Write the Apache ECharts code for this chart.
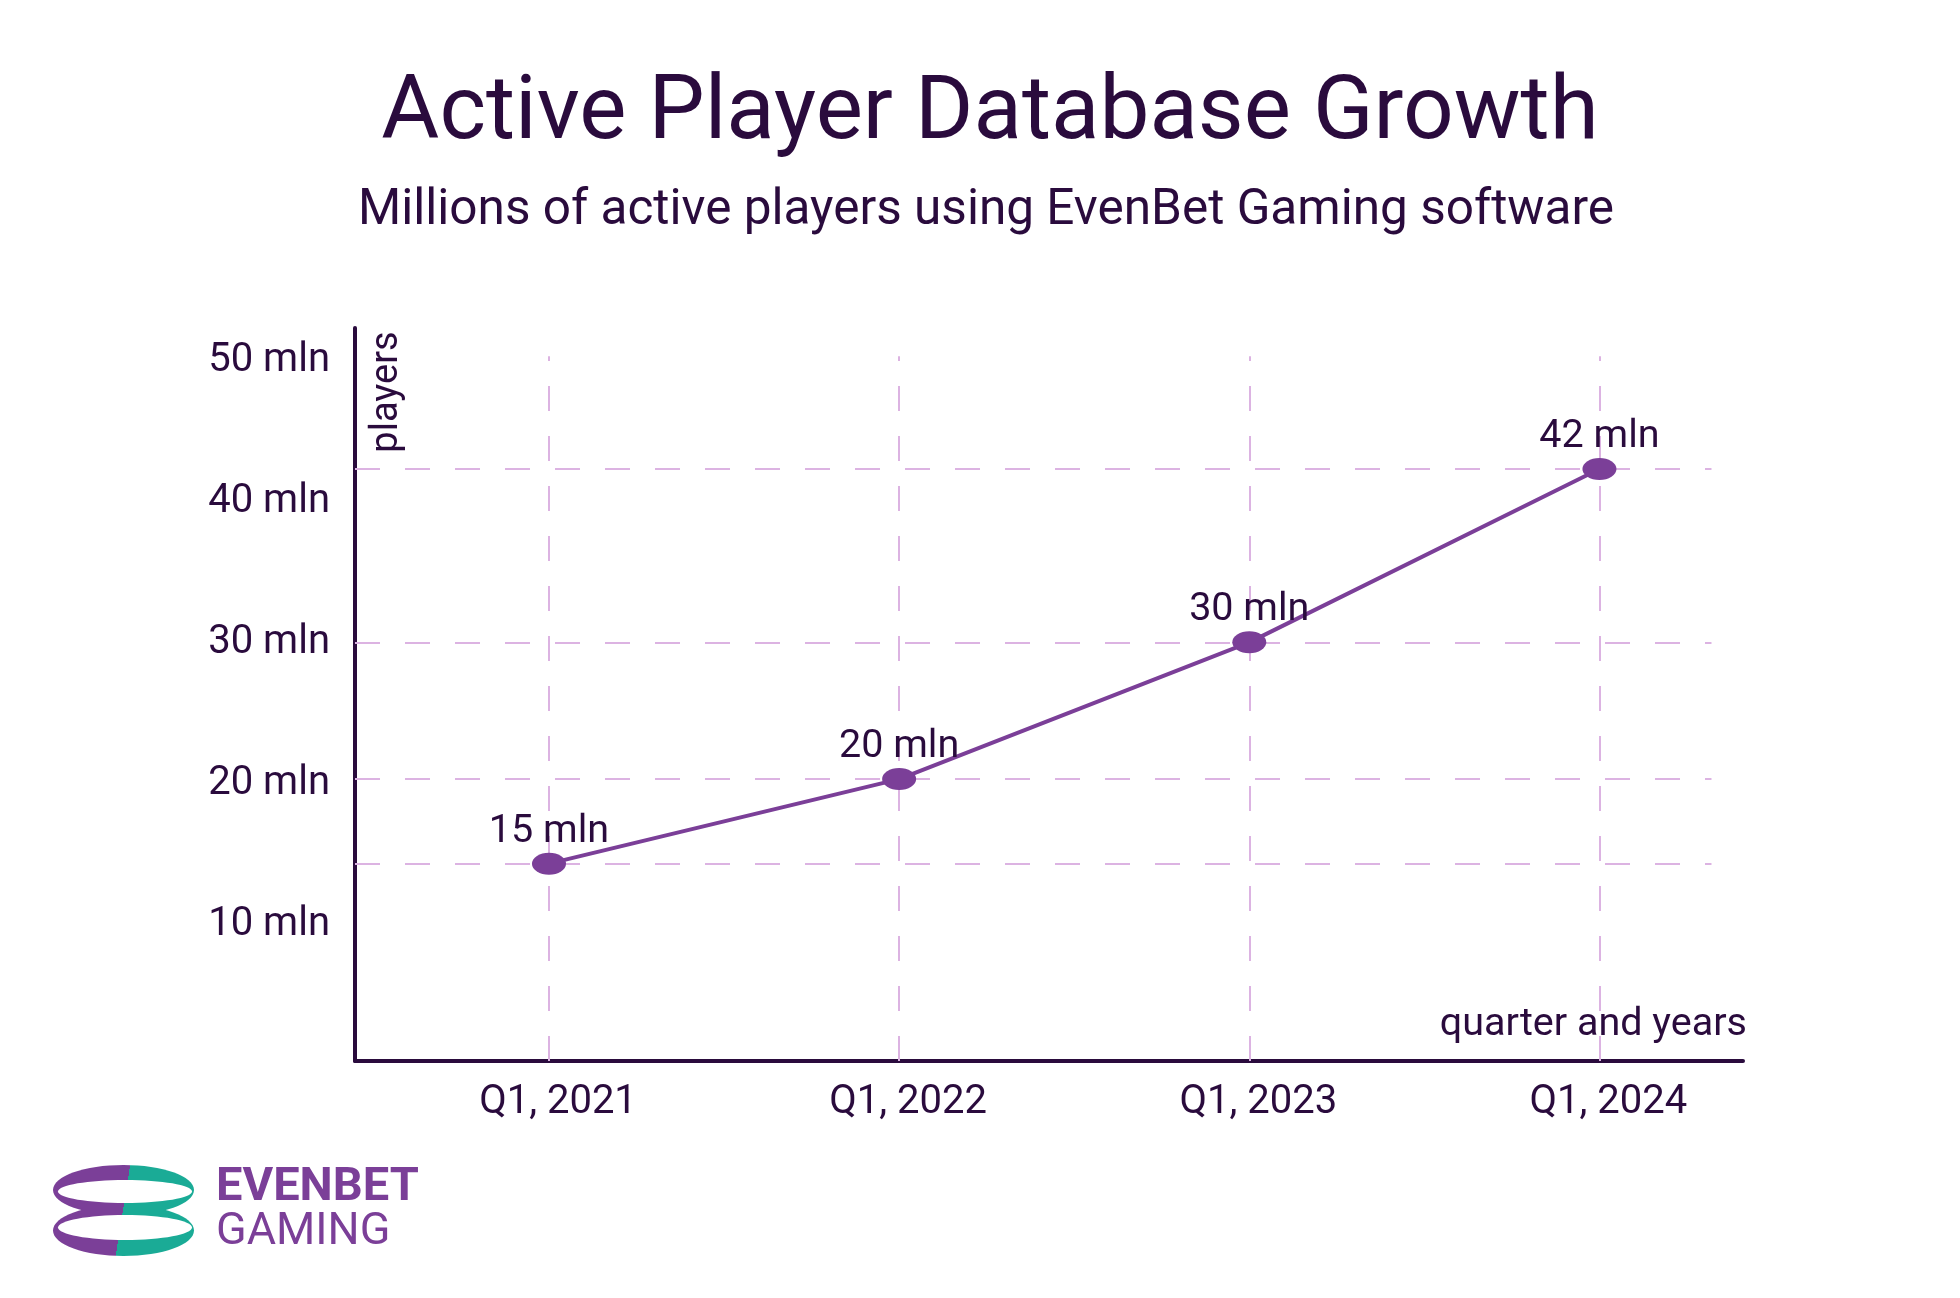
<!DOCTYPE html>
<html>
<head>
<meta charset="utf-8">
<title>Active Player Database Growth</title>
<script src="https://cdn.jsdelivr.net/npm/echarts@6/dist/echarts.min.js"></script>
<style>
  html, body { margin: 0; padding: 0; background: #ffffff; }
  #chart { width: 1960px; height: 1298px; }
</style>
</head>
<body>
<div id="chart"></div>
<script>
// data
const quarters = ['Q1, 2021', 'Q1, 2022', 'Q1, 2023', 'Q1, 2024'];
const players = [14, 20, 29.7, 42];
const pointLabels = ['15 mln', '20 mln', '30 mln', '42 mln'];
const yTicks = [10, 20, 30, 40, 50];

const dark = '#2a0b3d';
const purple = '#7b3f98';
const teal = '#1aab96';
const gridColor = '#dcb3e2';

const xMin = -0.554;
const xMax = 3.41;
const hLineEnd = 3.32;

const chart = echarts.init(document.getElementById('chart'));

const xIdx = quarters.map((q, i) => i);
const seriesData = players.map((v, i) => [i, v]);

// dashed guides: vertical at each quarter, horizontal at each value
const guideLines = []
	.concat(xIdx.map(i => [{ coord: [i, 0] }, { coord: [i, 50] }]))
	.concat(players.map(v => [{ coord: [xMin, v] }, { coord: [hLineEnd, v] }]));

// logo split gradient (hard stop, slightly tilted)
const splitFill = new echarts.graphic.LinearGradient(113, 1208.4, 133, 1211.6, [
	{ offset: 0, color: purple },
	{ offset: 0.5, color: purple },
	{ offset: 0.5, color: teal },
	{ offset: 1, color: teal }
], true);

const option = {
	backgroundColor: '#ffffff',
	animation: false,
	textStyle: { fontFamily: 'Roboto' },
	title: [
		{
			text: 'Active Player Database Growth',
			left: 990,
			top: 71,
			textAlign: 'center',
			padding: 0,
			textStyle: { fontSize: 89, fontWeight: 'normal', color: dark, fontFamily: 'Roboto' }
		},
		{
			text: 'Millions of active players using EvenBet Gaming software',
			left: 986,
			top: 187,
			textAlign: 'center',
			padding: 0,
			textStyle: { fontSize: 49.5, fontWeight: 'normal', color: dark, fontFamily: 'Roboto' }
		}
	],
	grid: { left: 355, right: 217, top: 328, bottom: 237 },
	xAxis: {
		type: 'value',
		min: xMin,
		max: xMax,
		splitLine: { show: false },
		axisTick: { show: false },
		axisLine: { show: true, onZero: false, lineStyle: { color: dark, width: 4 } },
		axisLabel: {
			customValues: xIdx,
			margin: 22,
			fontSize: 40,
			color: dark,
			padding: [0, 0, 0, 18],
			formatter: v => quarters[Math.round(v)]
		}
	},
	yAxis: {
		type: 'value',
		min: 0,
		max: 52,
		interval: 10,
		splitLine: { show: false },
		axisTick: { show: false },
		axisLine: { show: true, onZero: false, lineStyle: { color: dark, width: 4 } },
		axisLabel: {
			customValues: yTicks,
			margin: 25,
			formatter: v => '{t|' + v + ' mln}',
			rich: {
				t: { fontSize: 40, color: dark, fontFamily: 'Roboto', padding: [9, 0, 0, 0] }
			}
		}
	},
	series: [
		{
			type: 'line',
			data: seriesData,
			symbol: 'circle',
			symbolSize: [34, 22],
			lineStyle: { color: purple, width: 4 },
			itemStyle: { color: purple },
			z: 5,
			label: {
				show: true,
				position: 'top',
				distance: 1,
				fontSize: 39.5,
				color: dark,
				formatter: p => pointLabels[p.dataIndex]
			},
			markLine: {
				silent: true,
				symbol: ['none', 'none'],
				label: { show: false },
				lineStyle: { color: gridColor, width: 2, type: [25, 25] },
				z: 1,
				data: guideLines
			}
		}
	],
	graphic: [
		{
			type: 'text',
			x: 387,
			y: 392,
			rotation: Math.PI / 2,
			style: { text: 'players', font: '38px Roboto', fill: dark, align: 'center', verticalAlign: 'middle' }
		},
		{
			type: 'text',
			x: 1747,
			y: 1025,
			style: { text: 'quarter and years', font: '39.5px Roboto', fill: dark, align: 'right', verticalAlign: 'middle' }
		},
		// logo rings
		{ type: 'ellipse', shape: { cx: 123.5, cy: 1190, rx: 70.5, ry: 25 }, style: { fill: splitFill } },
		{ type: 'ellipse', shape: { cx: 123.5, cy: 1230.5, rx: 70.5, ry: 25.5 }, style: { fill: splitFill } },
		{ type: 'ellipse', shape: { cx: 125, cy: 1191.5, rx: 67, ry: 11.5 }, style: { fill: '#ffffff' } },
		{ type: 'ellipse', shape: { cx: 125, cy: 1227.5, rx: 67, ry: 12.5 }, style: { fill: '#ffffff' } },
		{
			type: 'text',
			x: 216,
			y: 1188,
			style: { text: 'EVENBET', font: 'bold 47px Roboto', fill: purple, align: 'left', verticalAlign: 'middle' }
		},
		{
			type: 'text',
			x: 216,
			y: 1233,
			style: { text: 'GAMING', font: '45px Roboto', fill: purple, align: 'left', verticalAlign: 'middle' }
		}
	]
};

chart.setOption(option);
</script>
</body>
</html>
